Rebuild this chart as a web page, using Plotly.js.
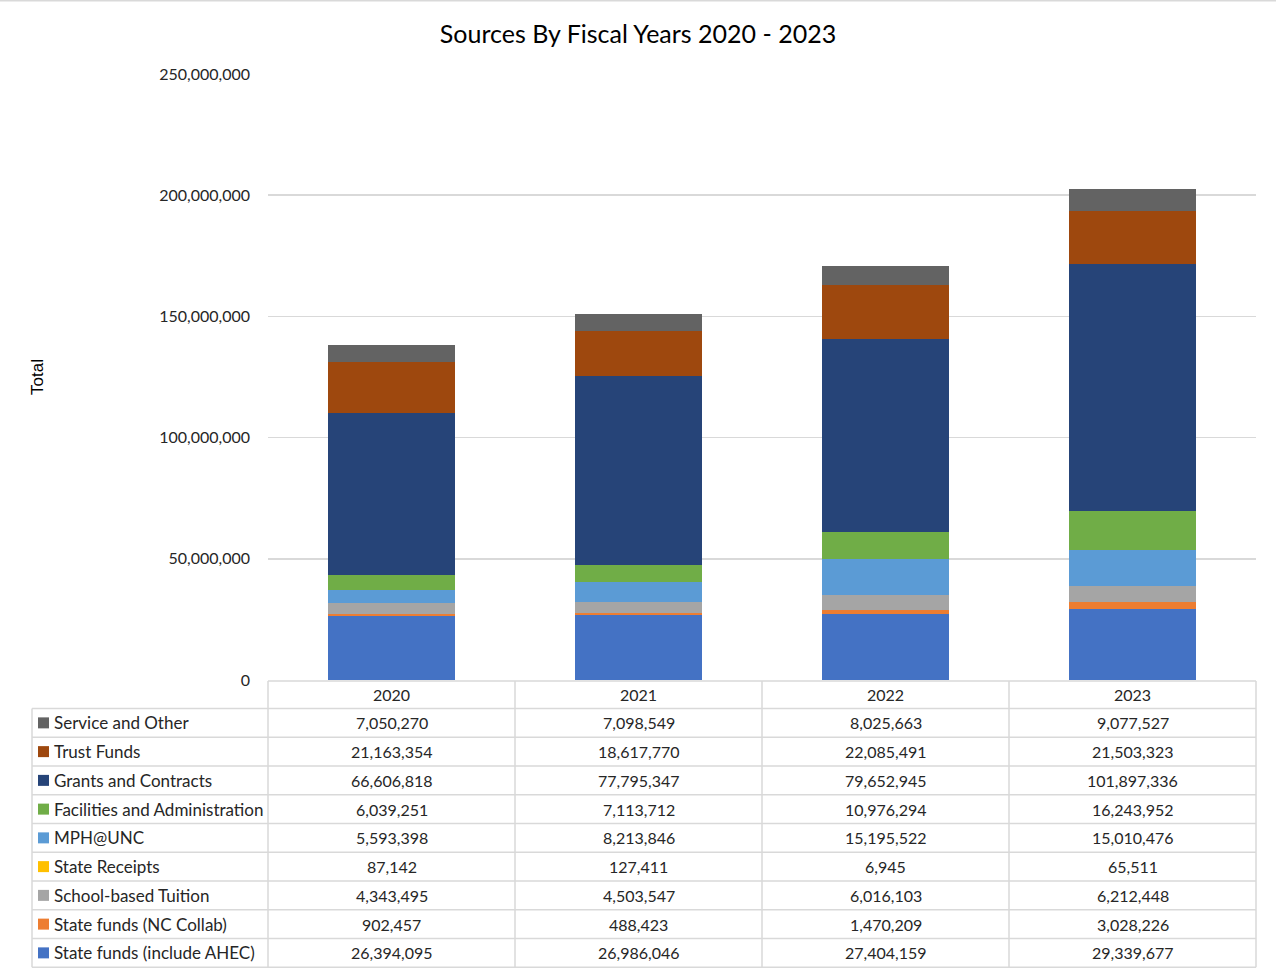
<!DOCTYPE html>
<html>
<head>
<meta charset="utf-8">
<script src="https://cdn.plot.ly/plotly-3.0.1.min.js"></script>
<style>html,body{margin:0;padding:0;background:#fff;}#chart{width:1276px;height:976px;}</style>
</head>
<body>
<div id="chart"></div>
<script>
// ---- Data ----
const years = ['2020', '2021', '2022', '2023'];
// Stack order: bottom to top
const seriesNames = [
  'State funds (include AHEC)',
  'State funds (NC Collab)',
  'School-based Tuition',
  'State Receipts',
  'MPH@UNC',
  'Facilities and Administration',
  'Grants and Contracts',
  'Trust Funds',
  'Service and Other'
];
const stateFundsAHEC = [26394095, 26986046, 27404159, 29339677];
const stateFundsNCCollab = [902457, 488423, 1470209, 3028226];
const schoolTuition = [4343495, 4503547, 6016103, 6212448];
const stateReceipts = [87142, 127411, 6945, 65511];
const mphUNC = [5593398, 8213846, 15195522, 15010476];
const facilitiesAdmin = [6039251, 7113712, 10976294, 16243952];
const grantsContracts = [66606818, 77795347, 79652945, 101897336];
const trustFunds = [21163354, 18617770, 22085491, 21503323];
const serviceOther = [7050270, 7098549, 8025663, 9077527];
const seriesValues = [stateFundsAHEC, stateFundsNCCollab, schoolTuition, stateReceipts,
  mphUNC, facilitiesAdmin, grantsContracts, trustFunds, serviceOther];
const seriesColors = ['#4472C4', '#ED7D31', '#A5A5A5', '#FFC000', '#5B9BD5',
  '#70AD47', '#264478', '#9E480E', '#636363'];

// ---- Layout helpers (pixel -> paper) ----
const W = 1276, H = 976;
const L = 268, R = 1256, T = 74, B = 680;
const px = x => (x - L) / (R - L);
const py = y => (B - y) / (B - T);
const FONT = 'Lato, Carlito, Calibri, "Open Sans", sans-serif';
const TXT = '#262626';
const LINE = '#d9d9d9';

const traces = seriesNames.map((n, i) => ({
  type: 'bar', name: n, x: years, y: seriesValues[i],
  marker: {color: seriesColors[i], line: {width: 0}},
  hoverinfo: 'name+y'
}));

const shapes = [];
const annotations = [];
const colX = [268, 515, 762, 1009, 1256];
const rowTop = 708.5, rowH = 28.75, nRows = seriesNames.length;
const tableBottom = rowTop + nRows * rowH;
const line = (x0, y0, x1, y1) => shapes.push({type: 'line', xref: 'paper', yref: 'paper',
  x0: px(x0), y0: py(y0), x1: px(x1), y1: py(y1), line: {color: LINE, width: 1.5}});

// chart border top
line(0, 0.75, W, 0.75);
// header top line
line(268, 681, 1256, 681);
for (let i = 0; i <= nRows; i++) line(32, rowTop + i * rowH, 1256, rowTop + i * rowH);
colX.forEach(x => line(x, 681, x, tableBottom));
line(32, rowTop, 32, tableBottom);

// header year labels
years.forEach((yr, j) => annotations.push({xref: 'paper', yref: 'paper',
  x: px((colX[j] + colX[j + 1]) / 2), y: py(694.5), text: yr, showarrow: false,
  xanchor: 'center', yanchor: 'middle', font: {family: FONT, size: 16, color: TXT}}));

// rows: top-down reverse of stack order
for (let r = 0; r < nRows; r++) {
  const si = nRows - 1 - r;
  const cy = rowTop + r * rowH + rowH / 2;
  shapes.push({type: 'rect', xref: 'paper', yref: 'paper', x0: px(38), x1: px(49),
    y0: py(cy - 5.5), y1: py(cy + 5.5), fillcolor: seriesColors[si], line: {width: 0}});
  annotations.push({xref: 'paper', yref: 'paper', x: px(52), y: py(cy), text: seriesNames[si],
    showarrow: false, xanchor: 'left', yanchor: 'middle', font: {family: FONT, size: 17, color: TXT}});
  seriesValues[si].forEach((v, j) => annotations.push({xref: 'paper', yref: 'paper',
    x: px((colX[j] + colX[j + 1]) / 2), y: py(cy), text: v.toLocaleString('en-US'),
    showarrow: false, xanchor: 'center', yanchor: 'middle', font: {family: FONT, size: 16, color: TXT}}));
}

// y-axis title
annotations.push({xref: 'paper', yref: 'paper', x: px(37), y: py(377), text: 'Total',
  textangle: -90, showarrow: false, xanchor: 'center', yanchor: 'middle',
  font: {family: 'Liberation Sans, Arial, sans-serif', size: 17, color: '#000'}});

const layout = {
  width: W, height: H,
  margin: {l: L, r: W - R, t: T, b: H - B, pad: 0},
  paper_bgcolor: '#fff', plot_bgcolor: '#fff',
  title: {text: 'Sources By Fiscal Years 2020 - 2023', xref: 'container', x: 0.5, xanchor: 'center',
    y: 1 - 34 / H, yanchor: 'middle', font: {family: FONT, size: 25, color: '#000'}},
  barmode: 'stack', bargap: 0.483, showlegend: false,
  xaxis: {type: 'category', showticklabels: false, showgrid: false, zeroline: false,
    showline: false, ticks: ''},
  yaxis: {range: [0, 250000000], tickvals: [0, 50000000, 100000000, 150000000, 200000000, 250000000],
    tickformat: ',d', showgrid: true, gridcolor: LINE, gridwidth: 1.5, zeroline: false,
    showline: false, ticks: '', ticklabelstandoff: 17,
    tickfont: {family: FONT, size: 16, color: TXT}},
  shapes: shapes, annotations: annotations
};

Plotly.newPlot('chart', traces, layout, {displayModeBar: false, staticPlot: true});
</script>
</body>
</html>
